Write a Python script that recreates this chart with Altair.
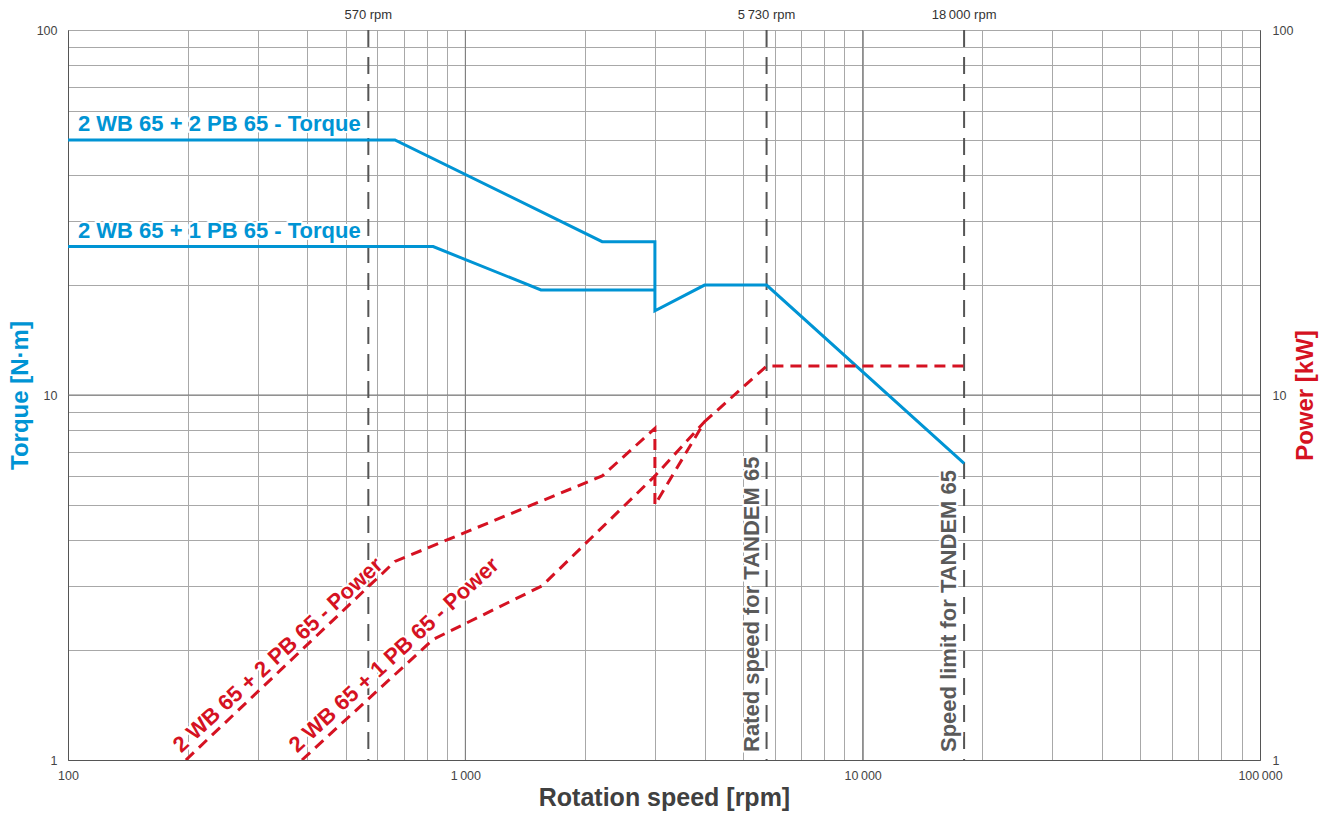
import altair as alt
import pandas as pd

FONT = "Liberation Sans"
BLUE = "#0094d4"
RED = "#d51222"
GRAY = "#5a5a5a"
TS = "\u2009"

# ---- axis grid values and labels ----
x_grid = [m * 10 ** e for e in (2, 3, 4) for m in range(1, 10)] + [100000]
x_label_vals = [100, 1000, 10000, 100000]
x_label_txt = ["100", "1" + TS + "000", "10" + TS + "000", "100" + TS + "000"]
y_grid = [m * 10 ** e for e in (0, 1) for m in range(1, 10)] + [100]
y_label_vals = [1, 10, 100]
y_label_txt = ["1", "10", "100"]
x_decades = [1000, 10000]
y_decades = [10]

# ---- torque curves [N·m] ----
t1_rpm = [100, 665, 2210, 3000, 3000, 4000, 5730, 18000]
t1_nm = [50, 50, 26.3, 26.3, 17.0, 20.0, 20.0, 6.5]
t2_rpm = [100, 830, 1550, 3000]
t2_nm = [25.5, 25.5, 19.4, 19.4]

# ---- power curves [kW] ----
p1_rpm = [198, 665, 2210, 3000, 3000, 4000, 5730, 18000]
p1_kw = [1.0, 3.5, 6.0, 8.1, 5.0, 8.45, 12.0, 12.0]
p2_rpm = [388, 830, 1560, 3000, 4000]
p2_kw = [1.0, 2.14, 3.0, 6.0, 8.45]

# ---- reference speeds ----
ref_rpm = [570, 5730, 18000]
ref_top = ["570 rpm", "5" + TS + "730 rpm", "18" + TS + "000 rpm"]
side_rpm = [5730, 18000]
side_txt = ["Rated speed for TANDEM 65", "Speed limit for TANDEM 65"]

torque_names = ["2 WB 65 + 2 PB 65 - Torque", "2 WB 65 + 1 PB 65 - Torque"]
power_names = ["2 WB 65 + 2 PB 65 - Power", "2 WB 65 + 1 PB 65 - Power"]


def curve_df(name, xs, ys):
    return pd.DataFrame({"rpm": xs, "val": ys, "series": name, "order": range(len(xs))})


torque_df = pd.concat([curve_df(torque_names[0], t1_rpm, t1_nm),
                       curve_df(torque_names[1], t2_rpm, t2_nm)])
power_df = pd.concat([curve_df(power_names[0], p1_rpm, p1_kw),
                      curve_df(power_names[1], p2_rpm, p2_kw)])

torque_lab = pd.DataFrame({"rpm": [t1_rpm[0], t2_rpm[0]], "val": [t1_nm[0], t2_nm[0]], "label": torque_names})
power_lab = pd.DataFrame({"rpm": [p1_rpm[0], p2_rpm[0]], "val": [p1_kw[0], p2_kw[0]], "label": power_names})
top_lab = pd.DataFrame({"rpm": ref_rpm, "val": [100] * 3, "label": ref_top})
side_lab = pd.DataFrame({"rpm": side_rpm, "val": [1] * 2, "label": side_txt})
ref_df = pd.DataFrame({"rpm": ref_rpm})
xdec_df = pd.DataFrame({"rpm": x_decades})
ydec_df = pd.DataFrame({"val": y_decades})


def label_expr(vals, txts):
    s = ""
    for v, t in zip(vals, txts):
        s += f"datum.value == {v} ? '{t}' : "
    return s + "''"


xscale = alt.Scale(type="log", domain=[100, 100000], nice=False)
yscale = alt.Scale(type="log", domain=[1, 100], nice=False)

x_axis = alt.Axis(
    values=x_grid, labelExpr=label_expr(x_label_vals, x_label_txt),
    grid=True, gridColor="#a8a8a8", gridWidth=1, ticks=False, tickSize=0,
    domainColor="#555555", labelFont=FONT, labelFontSize=12.5, labelColor="#444444",
    labelPadding=9, labelFlush=False, labelOverlap=False,
    title="Rotation speed [rpm]", titleFont=FONT, titleFontSize=25, titleFontWeight="bold",
    titleColor="#404040", titleX=596, titleY=45, titleBaseline="alphabetic", titleAlign="center",
)
y_axis_left = alt.Axis(
    orient="left", values=y_grid, labelExpr=label_expr(y_label_vals, y_label_txt),
    grid=True, gridColor="#a8a8a8", gridWidth=1, ticks=False, tickSize=0,
    domainColor="#555555", labelFont=FONT, labelFontSize=12.5, labelColor="#444444",
    labelPadding=11, labelFlush=False, labelOverlap=False,
    title="Torque [N·m]", titleFont=FONT, titleFontSize=24, titleFontWeight="bold",
    titleColor=BLUE, titleX=-48, titleY=365, titleAngle=270, titleBaseline="middle", titleAlign="center",
)
y_axis_right = alt.Axis(
    orient="right", values=y_grid, labelExpr=label_expr(y_label_vals, y_label_txt),
    grid=False, ticks=False, tickSize=0,
    domainColor="#555555", labelFont=FONT, labelFontSize=12.5, labelColor="#444444",
    labelPadding=12, labelFlush=False, labelOverlap=False,
    title="Power [kW]", titleFont=FONT, titleFontSize=24, titleFontWeight="bold",
    titleColor=RED, titleX=45, titleY=365, titleAngle=270, titleBaseline="middle", titleAlign="center",
)

X = alt.X("rpm:Q", scale=xscale, axis=x_axis)
YT = alt.Y("val:Q", scale=yscale, axis=y_axis_left)
YP = alt.Y("val:Q", scale=yscale, axis=y_axis_right)


def halo_text(df, Y, **kw):
    halo = alt.Chart(df).mark_text(stroke="white", strokeWidth=4, strokeJoin="round", **kw).encode(
        x=X, y=Y, text="label:N")
    txt = alt.Chart(df).mark_text(**kw).encode(x=X, y=Y, text="label:N")
    return halo + txt


# ---- torque group (left axis) ----
torque_lines = alt.Chart(torque_df).mark_line(color=BLUE, strokeWidth=3, clip=True).encode(
    x=X, y=YT, detail="series:N", order="order:Q",
)
xdec = alt.Chart(xdec_df).mark_rule(color="#7a7a7a", strokeWidth=1).encode(x=X)
ydec = alt.Chart(ydec_df).mark_rule(color="#7a7a7a", strokeWidth=1).encode(y=YT)
refs = alt.Chart(ref_df).mark_rule(color="#555555", strokeWidth=2, strokeDash=[17, 10]).encode(x=X)
top_text = alt.Chart(top_lab).mark_text(
    font=FONT, fontSize=13, color="#333333", align="center", baseline="middle", dy=-15
).encode(x=X, y=YT, text="label:N")
side_text = halo_text(side_lab, YT, font=FONT, fontSize=22, fontWeight="bold", color=GRAY,
                      angle=270, align="left", baseline="alphabetic", dx=8, dy=-8)
torque_text = halo_text(torque_lab, YT, font=FONT, fontSize=22, fontWeight="bold", color=BLUE,
                        align="left", baseline="alphabetic", dx=10, dy=-9)

torque_group = alt.layer(xdec, ydec, refs, torque_lines, top_text, side_text, torque_text)

# ---- power group (right axis) ----
power_lines = alt.Chart(power_df).mark_line(color=RED, strokeWidth=3, strokeDash=[11, 7], clip=True).encode(
    x=X, y=YP, detail="series:N", order="order:Q",
)
power_text = halo_text(power_lab, YP, font=FONT, fontSize=22, fontWeight="bold", color=RED,
                       angle=317.4, align="left", baseline="alphabetic", dx=1, dy=-8)
power_group = alt.layer(power_lines, power_text)

chart = alt.layer(torque_group, power_group).resolve_scale(y="independent").properties(
    width=1192, height=730,
    autosize=alt.AutoSizeParams(type="none"),
    padding={"left": 68, "top": 30, "right": 70, "bottom": 53},
    background="white",
).configure_view(stroke="#555555", strokeWidth=1)

chart.save("out.html", embed_options={"renderer": "svg", "actions": False})
